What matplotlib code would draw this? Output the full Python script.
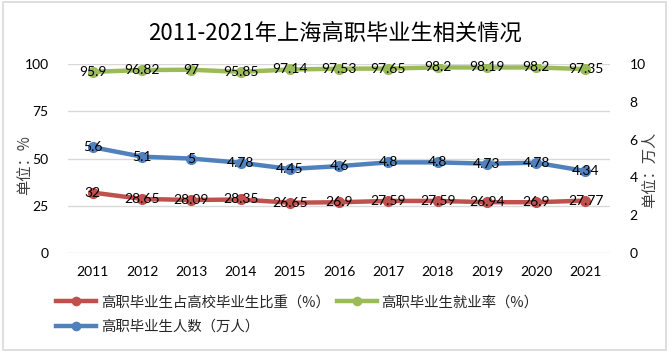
import matplotlib
matplotlib.use("Agg")
import matplotlib.pyplot as plt
from matplotlib.patches import Rectangle

plt.rcParams['font.family'] = ['Noto Sans CJK SC', 'DejaVu Sans']

years = ["2011", "2012", "2013", "2014", "2015", "2016", "2017", "2018", "2019", "2020", "2021"]
ratio = [32, 28.65, 28.09, 28.35, 26.65, 26.9, 27.59, 27.59, 26.94, 26.9, 27.77]
employ = [95.9, 96.82, 97, 95.85, 97.14, 97.53, 97.65, 98.2, 98.19, 98.2, 97.35]
count = [5.6, 5.1, 5, 4.78, 4.45, 4.6, 4.8, 4.8, 4.73, 4.78, 4.34]
labels = ["高职毕业生占高校毕业生比重（%）", "高职毕业生就业率（%）", "高职毕业生人数（万人）"]
left_ticks = [0, 25, 50, 75, 100]
right_ticks = [0, 2, 4, 6, 8, 10]

RED = "#C0504D"
GREEN = "#9BBB59"
BLUE = "#4F81BD"
NUMFONT = ["Lato", "DejaVu Sans"]

fig = plt.figure(figsize=(6.69, 3.52), dpi=100)
fig.patches.append(Rectangle((0.004, 0.006), 0.992, 0.988, transform=fig.transFigure,
                             fill=False, edgecolor="#D9D9D9", linewidth=1.2))
ax = fig.add_axes([0.102, 0.281, 0.810, 0.537])
ax2 = ax.twinx()

x = list(range(len(years)))
lw = 3.2
ms = 7
l1, = ax.plot(x, ratio, color=RED, lw=lw, marker="o", ms=ms, label=labels[0], zorder=3)
l2, = ax.plot(x, employ, color=GREEN, lw=lw, marker="o", ms=ms, label=labels[1], zorder=3)
l3, = ax2.plot(x, count, color=BLUE, lw=lw, marker="o", ms=ms, label=labels[2], zorder=3)

fs = 10
for xi, v in zip(x, ratio):
    ax.text(xi, v, f"{v:g}", ha="center", va="center", fontsize=fs, family=NUMFONT, zorder=5)
for xi, v in zip(x, employ):
    ax.text(xi, v, f"{v:g}", ha="center", va="center", fontsize=fs, family=NUMFONT, zorder=5)
for xi, v in zip(x, count):
    ax2.text(xi, v, f"{v:g}", ha="center", va="center", fontsize=fs, family=NUMFONT, zorder=5)

ax.set_xlim(-0.5, len(years) - 0.5)
ax.set_ylim(0, 100)
ax2.set_ylim(0, 10)
ax.set_yticks(left_ticks)
ax2.set_yticks(right_ticks)
ax.set_xticks(x)
ax.set_xticklabels(years)
ax.grid(axis="y", color="#D9D9D9", lw=1)
ax.set_axisbelow(True)
for a in (ax, ax2):
    for s in a.spines.values():
        s.set_visible(False)
    a.tick_params(length=0, labelsize=10)
    for t in a.get_xticklabels() + a.get_yticklabels():
        t.set_family(NUMFONT)
ax.tick_params(axis="x", pad=9)
ax.tick_params(axis="y", pad=14)
ax2.tick_params(axis="y", pad=14)

fig.text(25 / 669, 1 - 165 / 352, "单位：%", rotation=90, ha="center", va="center",
         fontsize=11, color="#404040")
fig.text(650 / 669, 1 - 170 / 352, "单位：万人", rotation=90, ha="center", va="center",
         fontsize=11, color="#404040")

fig.text(0.5, 0.905, "2011-2021年上海高职毕业生相关情况", ha="center", va="center", fontsize=16)

leg = fig.legend(handles=[l1, l3, l2], labels=[labels[0], labels[2], labels[1]], ncol=2,
                 loc="upper left", bbox_to_anchor=(0.075, 0.177), frameon=False,
                 fontsize=10.4, handlelength=2.8, handletextpad=0.3, columnspacing=0.5,
                 labelspacing=0.7, borderaxespad=0, markerscale=0.85)
for t in leg.get_texts():
    t.set_color("#262626")

fig.savefig("out.png", dpi=100)
